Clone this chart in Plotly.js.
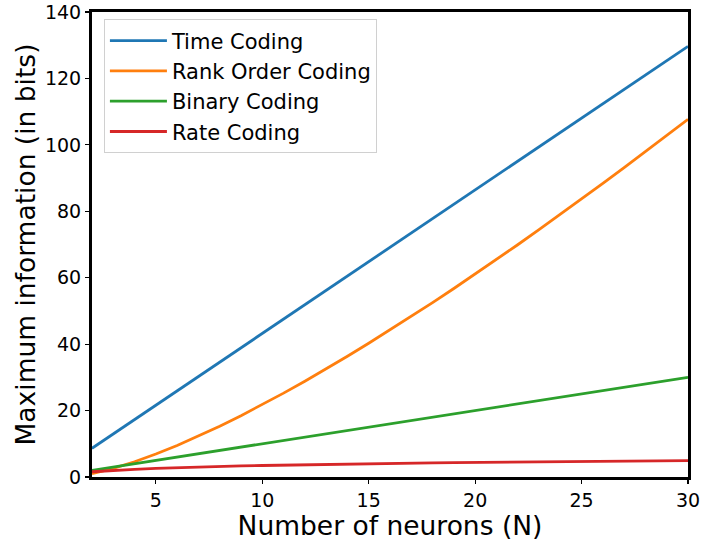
<!DOCTYPE html>
<html>
<head>
<meta charset="utf-8">
<script src="https://cdn.plot.ly/plotly-3.0.1.min.js"></script>
<style>html,body{margin:0;padding:0;background:#fff}#chart{width:701px;height:541px}</style>
</head>
<body>
<div id="chart"></div>
<script>
const neurons = [2,3,4,5,6,7,8,9,10,11,12,13,14,15,16,17,18,19,20,21,22,23,24,25,26,27,28,29,30];
const timeCoding = [8.64,12.97,17.29,21.61,25.93,30.25,34.58,38.90,43.22,47.54,51.86,56.18,60.51,64.83,69.15,73.47,77.79,82.12,86.44,90.76,95.08,99.40,103.73,108.05,112.37,116.69,121.01,125.34,129.66];
const rankOrderCoding = [1,2.585,4.585,6.907,9.492,12.299,15.299,18.469,21.791,25.250,28.835,32.535,36.342,40.249,44.249,48.336,52.506,56.754,61.076,65.468,69.927,74.451,79.036,83.680,88.380,93.135,97.942,102.800,107.707];
const binaryCoding = [2,3,4,5,6,7,8,9,10,11,12,13,14,15,16,17,18,19,20,21,22,23,24,25,26,27,28,29,30];
const rateCoding = [1.585,2,2.322,2.585,2.807,3,3.170,3.322,3.459,3.585,3.700,3.807,3.907,4,4.087,4.170,4.248,4.322,4.392,4.459,4.524,4.585,4.644,4.700,4.755,4.807,4.858,4.907,4.954];
const seriesNames = ["Time Coding","Rank Order Coding","Binary Coding","Rate Coding"];
const seriesColors = ["#1f77b4","#ff7f0e","#2ca02c","#d62728"];
const xTicks = [5,10,15,20,25,30];
const yTicks = [0,20,40,60,80,100,120,140];

const allSeries = [timeCoding, rankOrderCoding, binaryCoding, rateCoding];
const traces = allSeries.map((ys, i) => ({
  x: neurons, y: ys, type: 'scatter', mode: 'lines', name: seriesNames[i],
  line: {color: seriesColors[i], width: 2.8}
}));

const layout = {
  width: 701, height: 541,
  margin: {l: 92, r: 13, t: 12, b: 64},
  paper_bgcolor: '#fff', plot_bgcolor: '#fff',
  font: {family: 'DejaVu Sans', size: 19, color: '#000'},
  showlegend: true,
  legend: {
    x: 0.02, y: 0.984, xanchor: 'left', yanchor: 'top',
    bgcolor: 'rgba(255,255,255,0.8)', bordercolor: '#d0d0d0', borderwidth: 1,
    itemwidth: 57,
    font: {family: 'DejaVu Sans', size: 21, color: '#000'}
  },
  xaxis: {
    range: [2, 30], tickvals: xTicks, ticktext: xTicks.map(String),
    showgrid: false, zeroline: false,
    showline: true, linecolor: '#000', linewidth: 3, mirror: true,
    ticks: 'outside', ticklen: 4, tickwidth: 1.2, tickcolor: '#000',
    tickfont: {family: 'DejaVu Sans', size: 19, color: '#000'},
    title: {text: 'Number of neurons (N)', font: {family: 'DejaVu Sans', size: 26.5, color: '#000'}, standoff: 1}
  },
  yaxis: {
    range: [0, 140], tickvals: yTicks, ticktext: yTicks.map(String),
    showgrid: false, zeroline: false,
    showline: true, linecolor: '#000', linewidth: 3, mirror: true,
    ticks: 'outside', ticklen: 4, tickwidth: 1.2, tickcolor: '#000',
    tickfont: {family: 'DejaVu Sans', size: 19, color: '#000'},
    title: {text: 'Maximum information (in bits)', font: {family: 'DejaVu Sans', size: 26.5, color: '#000'}, standoff: 2}
  }
};
Plotly.newPlot('chart', traces, layout, {displayModeBar: false, staticPlot: true});
</script>
</body>
</html>
